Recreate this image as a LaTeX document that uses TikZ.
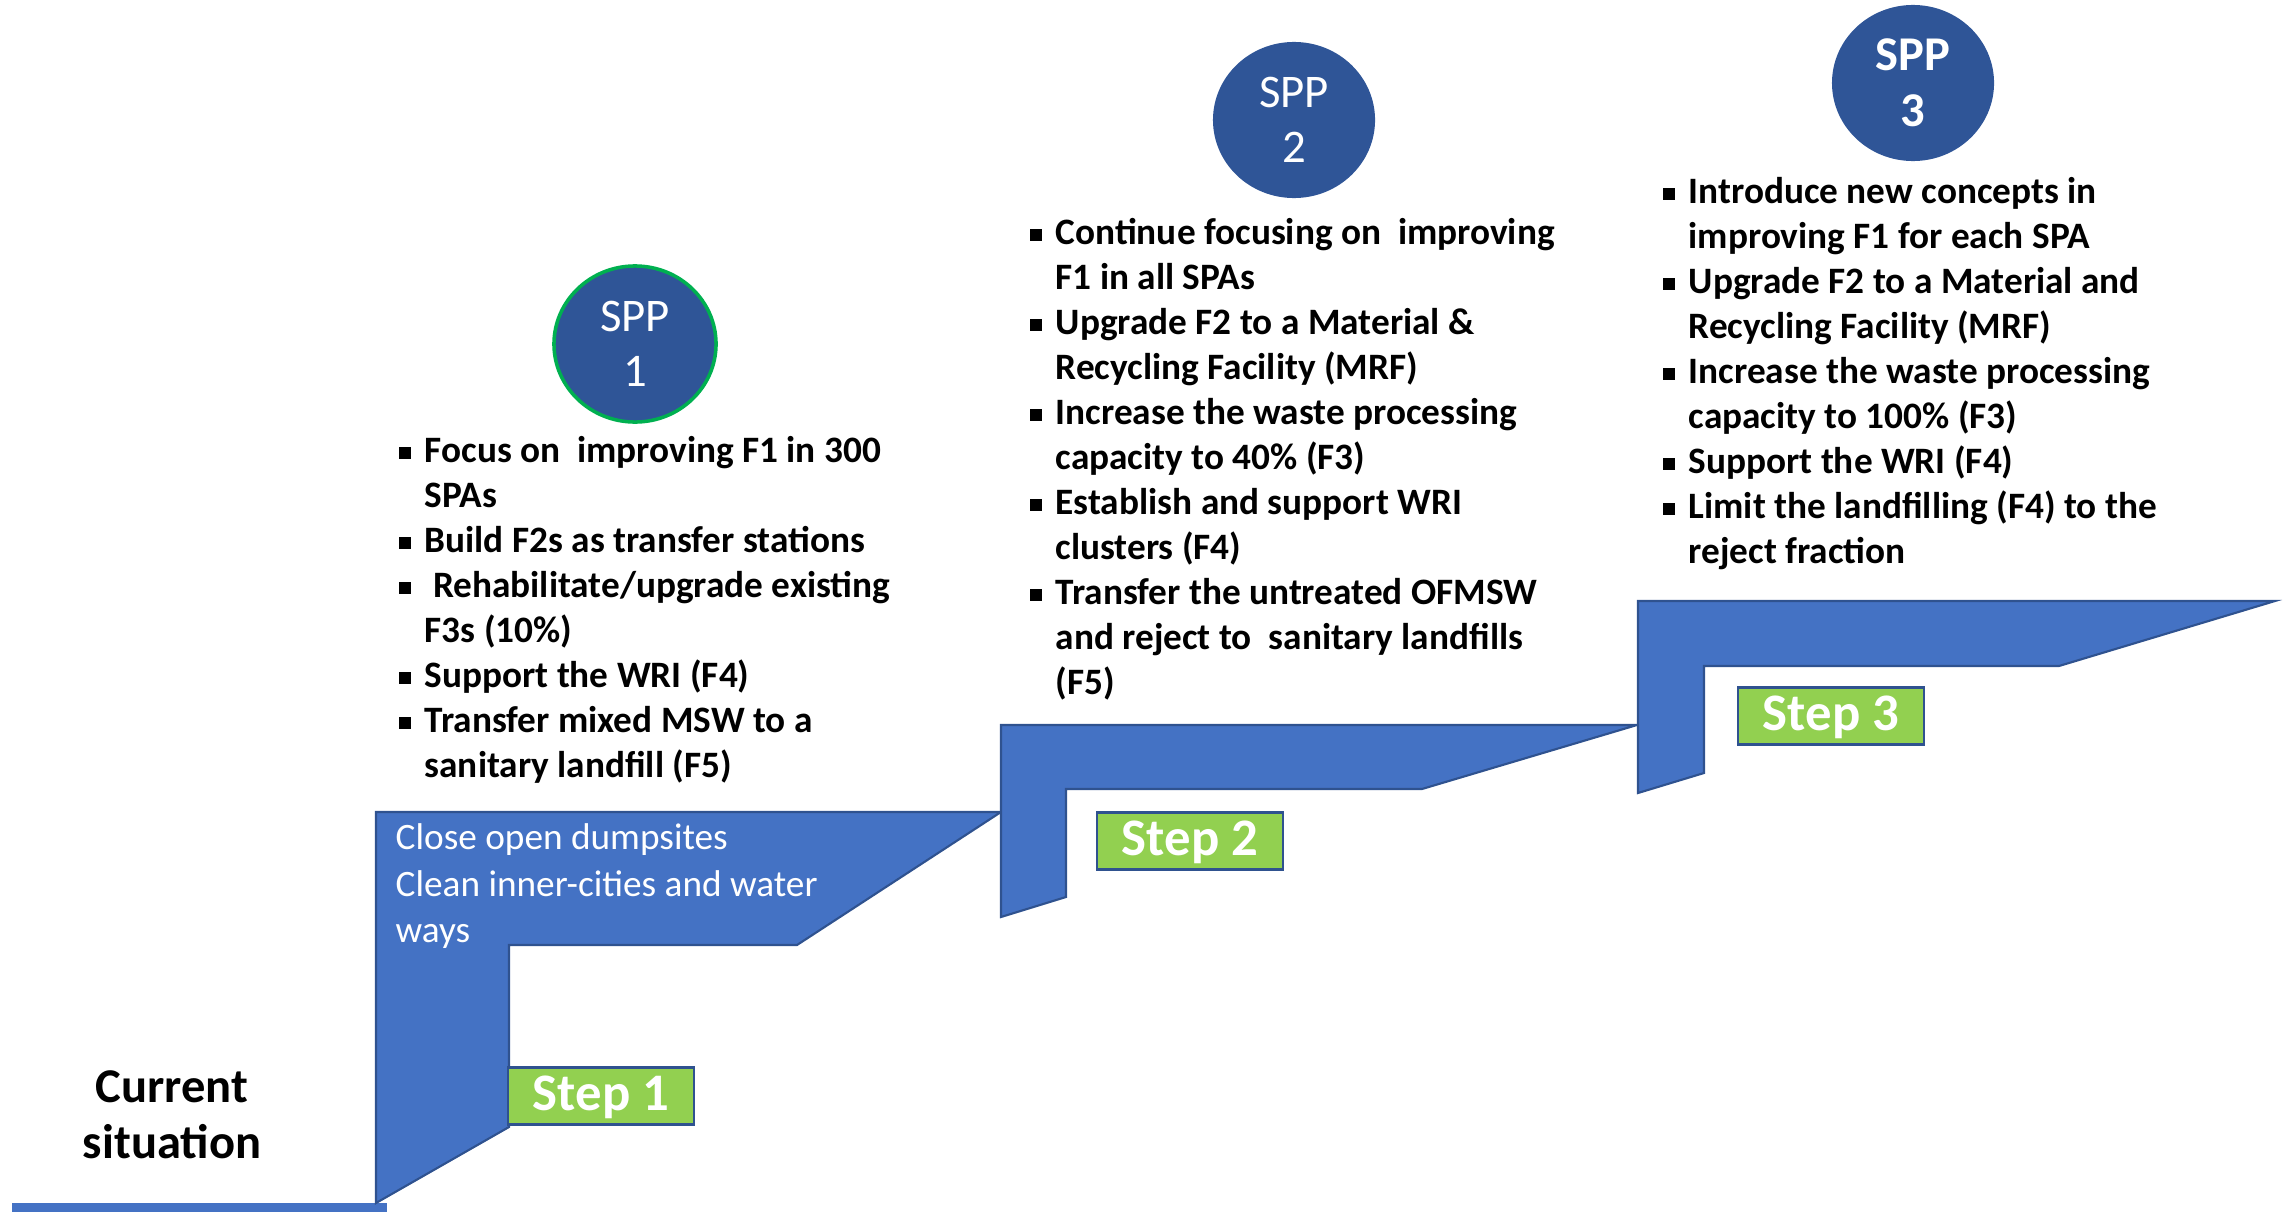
\documentclass[tikz,border=0pt]{standalone}
\usepackage{fontspec}
\setmainfont{Carlito}
\usetikzlibrary{shapes.geometric}

\definecolor{stairblue}{HTML}{4472C4}
\definecolor{stairedge}{HTML}{2F528F}
\definecolor{sppblue}{HTML}{2F5597}
\definecolor{stepgreen}{HTML}{92D050}
\definecolor{ringgreen}{HTML}{00B050}

\newcommand{\sqb}{\rule[0.09em]{0.32em}{0.32em}}

\tikzset{
  stair/.style={fill=stairblue, draw=stairedge, line width=0.6pt},
  plan/.style={anchor=north west, inner sep=0pt, font=\bfseries\fontsize{10.6}{12.8}\selectfont}
}

\begin{document}
\begin{tikzpicture}[x=0.01cm, y=-0.01cm]
  \useasboundingbox (0,0) rectangle (2285,1212);

  \fill[stairblue] (12,1203) rectangle (387,1212);
  \path[stair] (376,812) -- (1001,812) -- (797,945) -- (509,945) -- (509,1127) -- (376,1203) -- cycle;
  \path[stair] (1001,725) -- (1637,725) -- (1422,789) -- (1066,789) -- (1066,897) -- (1001,917) -- cycle;
  \path[stair] (1638,601) -- (2275,601) -- (2059,666) -- (1704,666) -- (1704,773) -- (1638,793) -- cycle;

  \begin{scope}[every node/.style={ellipse, fill=sppblue, text=white, align=center, inner sep=0pt,
      minimum width=1.62cm, minimum height=1.56cm, font=\fontsize{13.3}{15.6}\selectfont}]
    \node[draw=ringgreen, line width=1pt] (spp1) at (635,344) {SPP\\1};
    \node (spp2) at (1294,120) {SPP\\2};
    \node[font=\bfseries\fontsize{13.8}{15.8}\selectfont] (spp3) at (1913,83) {SPP\\3};
  \end{scope}

  \begin{scope}[every node/.style={rectangle, fill=stepgreen, draw=stairedge, line width=0.8pt, text=white,
      minimum width=1.86cm, minimum height=0.57cm, inner sep=0pt, text height=11.4pt, text depth=3pt,
      font=\bfseries\fontsize{15}{17}\selectfont}]
    \node (step1) at (601,1096) {Step 1};
    \node (step2) at (1190,841) {Step 2};
    \node (step3) at (1831,716) {Step 3};
  \end{scope}

  \node[anchor=north, inner sep=0pt, font=\bfseries\fontsize{13.8}{15.8}\selectfont] (now) at (172,1063)
    {\begin{tabular}{@{}c@{}}Current\\situation\end{tabular}};

  \node[anchor=north west, inner sep=0pt, text=white, font=\fontsize{10.6}{13.1}\selectfont] (clean) at (395,817)
    {\begin{tabular}{@{}l@{}}Close open dumpsites\\Clean inner-cities and water\\ways\end{tabular}};

  \node[plan] (plan1) at (398,430) {\begin{tabular}{@{}l@{\hspace{4pt}}l@{}}
    \sqb & Focus on\ \ improving F1 in 300\\
         & SPAs\\
    \sqb & Build F2s as transfer stations\\
    \sqb & \ Rehabilitate/upgrade existing\\
         & F3s (10\%)\\
    \sqb & Support the WRI (F4)\\
    \sqb & Transfer mixed MSW to a\\
         & sanitary landfill (F5)
  \end{tabular}};

  \node[plan] (plan2) at (1029,212) {\begin{tabular}{@{}l@{\hspace{4pt}}l@{}}
    \sqb & Continue focusing on\ \ improving\\
         & F1 in all SPAs\\
    \sqb & Upgrade F2 to a Material \&\\
         & Recycling Facility (MRF)\\
    \sqb & Increase the waste processing\\
         & capacity to 40\% (F3)\\
    \sqb & Establish and support WRI\\
         & clusters (F4)\\
    \sqb & Transfer the untreated OFMSW\\
         & and reject to\ \ sanitary landfills\\
         & (F5)
  \end{tabular}};

  \node[plan] (plan3) at (1662,171) {\begin{tabular}{@{}l@{\hspace{4pt}}l@{}}
    \sqb & Introduce new concepts in\\
         & improving F1 for each SPA\\
    \sqb & Upgrade F2 to a Material and\\
         & Recycling Facility (MRF)\\
    \sqb & Increase the waste processing\\
         & capacity to 100\% (F3)\\
    \sqb & Support the WRI (F4)\\
    \sqb & Limit the landfilling (F4) to the\\
         & reject fraction
  \end{tabular}};

\end{tikzpicture}
\end{document}
